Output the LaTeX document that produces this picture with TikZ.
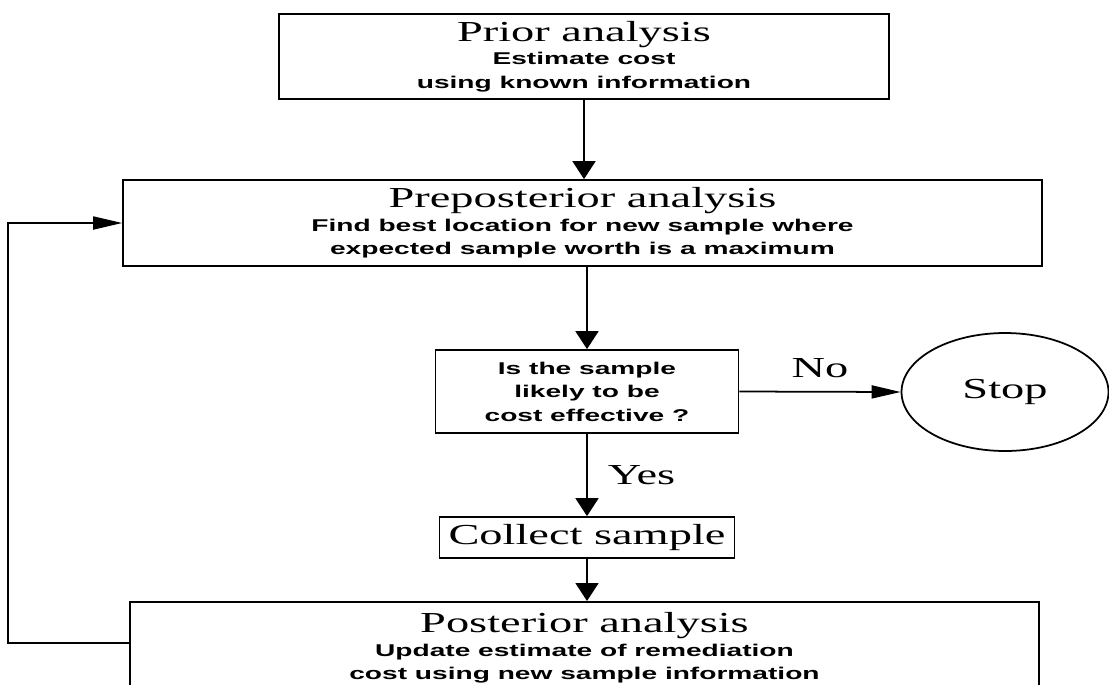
\documentclass[tikz,border=0pt]{standalone}
\usepackage{fontspec}
\setmainfont{Liberation Serif}
\newfontfamily\titlefam[FakeStretch=1.6]{Liberation Serif}
\newfontfamily\notefam[FakeStretch=1.65]{Liberation Sans}
\newcommand{\titlefont}{\titlefam\mdseries\fontsize{16.5}{17}\selectfont}
\newcommand{\notefont}{\notefam\bfseries\fontsize{9.7}{13.4}\selectfont}
\usetikzlibrary{arrows.meta,positioning,shapes.geometric}

\begin{document}
\begin{tikzpicture}[x=0.02cm,y=-0.02cm,
	box/.style={draw,line width=1pt,inner sep=0pt,align=center,font=\notefont},
	downarrow/.style={line width=1pt,-{Triangle[length=0.36cm,width=0.46cm]}},
	sidearrow/.style={line width=1pt,-{Triangle[length=0.58cm,width=0.26cm]}}]
		\useasboundingbox (0,0) rectangle (1109,684);
		\clip (0,0) rectangle (1109,684);
		\node[box,minimum width=12.2cm,minimum height=1.7cm] (prior) at (584,56.5)
			{{\titlefont Prior analysis}\\ Estimate cost\\ using known information};
		\node[box,minimum width=18.38cm,minimum height=1.72cm] (prepost) at (582.5,223)
			{{\titlefont Preposterior analysis}\\ Find best location for new sample where\\ expected sample worth is a maximum};
		\node[box,minimum width=6.06cm,minimum height=1.66cm] (decide) at (587,391.5)
			{Is the sample\\ likely to be\\ cost effective ?};
		\node[draw,ellipse,line width=1pt,minimum width=4.14cm,minimum height=2.36cm,inner sep=0pt,font=\titlefont] (stop) at (1005,392) {Stop};
		\node[box,minimum width=5.9cm,minimum height=0.82cm,font=\titlefont] (collect) at (587,537.5) {Collect sample};
		\node[box,minimum width=18.18cm,inner ysep=6pt,text depth=1.2cm,anchor=north] (post) at (584.5,601)
			{{\titlefont Posterior analysis}\\ Update estimate of remediation\\ cost using new sample information};
		\coordinate (bend) at (8,643);
		\draw[downarrow] (prior.south) -- (prior.south |- prepost.north);
		\draw[downarrow] (decide.north |- prepost.south) -- (decide.north);
		\draw[sidearrow] (decide.east) -- (stop.west) node[midway,above=4pt,font=\titlefont]{No};
		\draw[downarrow] (decide.south) -- (collect.north) node[midway,right=8pt,font=\titlefont]{Yes};
		\draw[downarrow] (collect.south) -- (collect.south |- post.north);
		\draw[sidearrow] (post.west |- bend) -- (bend) |- (prepost.west);
\end{tikzpicture}
\end{document}
